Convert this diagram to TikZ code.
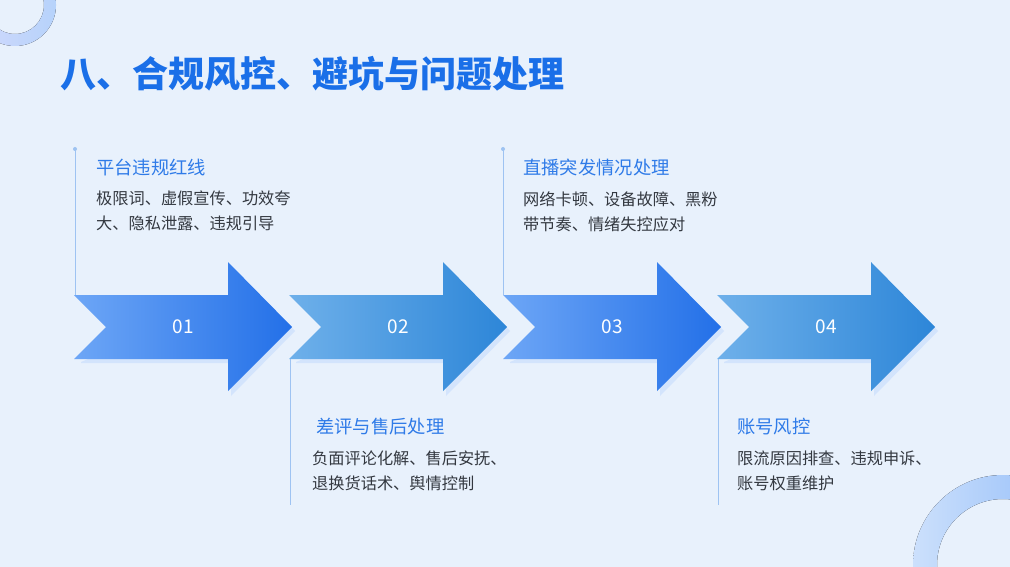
\documentclass[tikz,border=0pt]{standalone}
\usepackage{fontspec}
\setmainfont{Noto Sans CJK SC}
\usetikzlibrary{calc}
\definecolor{bg}{HTML}{E8F1FC}
\definecolor{tblue}{HTML}{1A6FE8}
\definecolor{htxt}{HTML}{2F7BE8}
\definecolor{btxt}{HTML}{333840}
\definecolor{lineb}{HTML}{9EC3F2}
\definecolor{aL}{HTML}{6DA6F6}
\definecolor{aR}{HTML}{2370E8}
\definecolor{bL}{HTML}{6EB0EA}
\definecolor{bR}{HTML}{2D86D8}
\begin{document}
\begin{tikzpicture}[x=1pt,y=-1pt,
  head/.style={anchor=west,inner sep=0,text=htxt,font=\fontsize{18.3}{20}\selectfont},
  body/.style={anchor=north west,inner sep=0,text=btxt,font=\fontsize{16.2}{25}\selectfont,align=left},
  num/.style={text=white,font=\fontsize{19}{22}\selectfont},
  vline/.style={lineb,line width=1pt}]
\fill[bg] (0,0) rectangle (1010,567);
\useasboundingbox (0,0) rectangle (1010,567);
% rings
\fill[even odd rule,left color=blue!10!bg,right color=aL!50] (15,5) circle (41) (15,5) circle (29);
\fill[even odd rule,left color=aL!35,right color=aL!80] (1003,565) circle (90) (1003,565) circle (66);
% title
\node[anchor=west,inner sep=0,text=tblue,font=\fontsize{36}{40}\selectfont\bfseries] (title) at (60,74) {八、合规风控、避坑与问题处理};
% arrows
\foreach \i/\x/\c in {1/74/a,2/289/b,3/503/a,4/717/b}{
  \fill[aL!30] ($(\x,327)+(3,4)$) ++(154,-32) -- ++(0,-33) -- ++(64,65) -- ++(-64,65) -- ++(0,-33) -- ++(-150,0) -- ++(0,-1) -- cycle;
  \path[left color=\c L,right color=\c R] (\x,295) -- ++(154,0) -- ++(0,-33) -- ++(64,65) -- ++(-64,64) -- ++(0,-32) -- ++(-154,0) -- ++(32,-32) -- cycle;
  \node[num] (n\i) at (\x+109,327) {0\i};
}
% lines
\foreach \x in {75,503}{\draw[vline] (\x,149) -- (\x,295); \fill[lineb] (\x,149) circle (2);}
\foreach \x in {290,718}{\draw[vline] (\x,359) -- (\x,505);}
% texts
\node[head] (h1) at (96,168) {平台违规红线};
\node[body] (b1) at (96,191) {极限词、虚假宣传、功效夸\\大、隐私泄露、违规引导};
\node[head] (h2) at (316,427) {差评与售后处理};
\node[body] (b2) at (312,451) {负面评论化解、售后安抚、\\退换货话术、舆情控制};
\node[head] (h3) at (523,168) {直播突发情况处理};
\node[body] (b3) at (523,191) {网络卡顿、设备故障、黑粉\\带节奏、情绪失控应对};
\node[head] (h4) at (737,427) {账号风控};
\node[body] (b4) at (737,451) {限流原因排查、违规申诉、\\账号权重维护};
\end{tikzpicture}
\end{document}
